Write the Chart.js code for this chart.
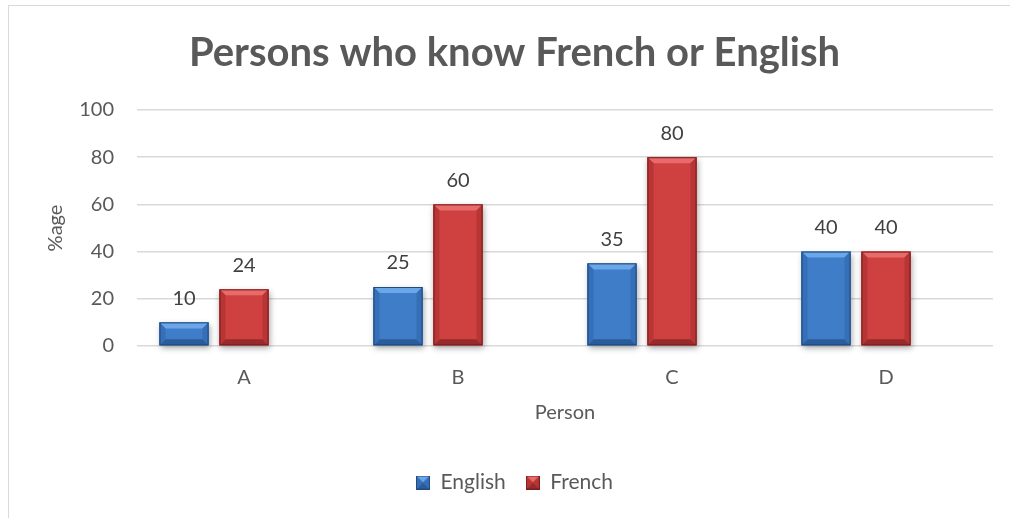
<!DOCTYPE html>
<html>
<head>
<meta charset="utf-8">
<script src="https://cdn.jsdelivr.net/npm/chart.js@4/dist/chart.umd.min.js"></script>
<style>
  html, body { margin: 0; padding: 0; background: #fff; overflow: hidden; }
  #frame { position: absolute; left: 8px; top: 5px; width: 1100px; height: 600px; border: 1px solid #d9d9d9; }
  #chart { position: absolute; left: 0; top: 0; }
</style>
</head>
<body>
<div id="frame"></div>
<canvas id="chart" width="1030" height="518"></canvas>
<script>
// Chart data
const categories = ['A', 'B', 'C', 'D'];
const english = [10, 25, 35, 40];
const french = [24, 60, 80, 40];
const series3 = [null, null, null, null]; // empty 3rd series in the source sheet, it keeps the slot
const yTicks = [0, 20, 40, 60, 80, 100];

const textGray = '#595959';
const FONT = 'Lato';

// colours for the bevelled bars
const palette = {
    English: { body: '#3f7dc9', top: '#6ba7e8', side: '#356fb7', bottom: '#2b5b98', edge: '#234a7c' },
    French:  { body: '#cf4141', top: '#e86a6a', side: '#b93535', bottom: '#972a2a', edge: '#761f1f' }
};

// draw one bevelled box, used for the bars and the legend keys
function bevelBox(ctx, left, top, right, bottom, b, c) {
    ctx.save();
    ctx.fillStyle = c.body;
    ctx.fillRect(left, top, right - left, bottom - top);
    const face = (pts, color) => {
        ctx.beginPath();
        ctx.moveTo(pts[0][0], pts[0][1]);
        pts.slice(1).forEach(p => ctx.lineTo(p[0], p[1]));
        ctx.closePath();
        ctx.fillStyle = color;
        ctx.fill();
    };
    face([[left, top], [right, top], [right - b, top + b], [left + b, top + b]], c.top);
    face([[left, bottom], [right, bottom], [right - b, bottom - b], [left + b, bottom - b]], c.bottom);
    face([[left, top], [left + b, top + b], [left + b, bottom - b], [left, bottom]], c.side);
    face([[right, top], [right - b, top + b], [right - b, bottom - b], [right, bottom]], c.side);
    ctx.strokeStyle = c.edge;
    ctx.lineWidth = 1;
    ctx.strokeRect(left + 0.5, top + 0.5, right - left - 1, bottom - top - 1);
    ctx.restore();
}

function legendKey(c) {
    const k = document.createElement('canvas');
    k.width = 14;
    k.height = 14;
    bevelBox(k.getContext('2d'), 0, 0, 14, 14, 7, c);
    return k;
}

function eachBar(chart, fn) {
    chart.data.datasets.forEach((ds, i) => {
        const meta = chart.getDatasetMeta(i);
        if (meta.hidden || !palette[ds.label]) return;
        meta.data.forEach((el, j) => {
            const v = ds.data[j];
            if (v === null || v === undefined) return;
            const p = el.getProps(['x', 'y', 'base', 'width'], true);
            fn(p, palette[ds.label], v);
        });
    });
}

const bevelPlugin = {
    id: 'bevel',
    beforeDatasetsDraw(chart) {
        const ctx = chart.ctx;
        eachBar(chart, (p, c) => {
            ctx.save();
            ctx.shadowColor = 'rgba(0,0,0,0.35)';
            ctx.shadowBlur = 6;
            ctx.shadowOffsetX = 1;
            ctx.shadowOffsetY = 3;
            ctx.fillStyle = c.body;
            ctx.fillRect(p.x - p.width / 2, p.y, p.width, p.base - p.y);
            ctx.restore();
        });
    },
    afterDatasetsDraw(chart) {
        const ctx = chart.ctx;
        eachBar(chart, (p, c, v) => {
            const left = p.x - p.width / 2, right = p.x + p.width / 2;
            const b = Math.min(6, (p.base - p.y) / 2);
            bevelBox(ctx, left, p.y, right, p.base, b, c);
            // value label
            ctx.save();
            ctx.font = '20px ' + FONT;
            ctx.fillStyle = '#404040';
            ctx.textAlign = 'center';
            ctx.textBaseline = 'middle';
            ctx.fillText(String(v), p.x, p.y - 24);
            ctx.restore();
        });
    }
};

new Chart(document.getElementById('chart'), {
    type: 'bar',
    data: {
        labels: categories,
        datasets: [
            { label: 'English', data: english, backgroundColor: palette.English.body, pointStyle: legendKey(palette.English) },
            { label: 'French', data: french, backgroundColor: palette.French.body, pointStyle: legendKey(palette.French) },
            { label: 'Series3', data: series3, backgroundColor: 'rgba(0,0,0,0)' }
        ]
    },
    options: {
        responsive: false,
        animation: false,
        devicePixelRatio: 1,
        layout: { padding: { top: 6, left: 36, right: 37, bottom: 15 } },
        datasets: {
            bar: { categoryPercentage: 0.841, barPercentage: 0.817, borderWidth: 0 }
        },
        plugins: {
            title: {
                display: true,
                text: 'Persons who know French or English',
                color: textGray,
                font: { family: FONT, size: 40, weight: 'bold' },
                padding: { top: 23, bottom: 33 }
            },
            legend: {
                position: 'bottom',
                labels: {
                    color: textGray,
                    font: { family: FONT, size: 21 },
                    usePointStyle: true,
                    boxWidth: 14,
                    boxHeight: 14,
                    padding: 20,
                    filter: item => item.text !== 'Series3'
                }
            },
            tooltip: { enabled: false }
        },
        scales: {
            x: {
                grid: { display: false, drawTicks: false },
                border: { display: false },
                ticks: { color: textGray, font: { family: FONT, size: 20 }, padding: 20 },
                title: {
                    display: true,
                    text: 'Person',
                    color: textGray,
                    font: { family: FONT, size: 20 },
                    padding: { top: 0, bottom: 27 }
                },
                afterFit: s => { s.height = 106; }
            },
            y: {
                min: 0,
                max: 100,
                grid: { color: '#d9d9d9', lineWidth: 1.5, drawTicks: false },
                border: { display: false },
                ticks: { color: textGray, font: { family: FONT, size: 20 }, padding: 23 },
                afterBuildTicks: s => { s.ticks = yTicks.map(v => ({ value: v })); },
                title: {
                    display: true,
                    text: '%age',
                    color: textGray,
                    font: { family: FONT, size: 20 },
                    padding: { top: 8, bottom: 0 }
                },
                afterFit: s => { s.width = 101; }
            }
        }
    },
    plugins: [bevelPlugin]
});
</script>
</body>
</html>
